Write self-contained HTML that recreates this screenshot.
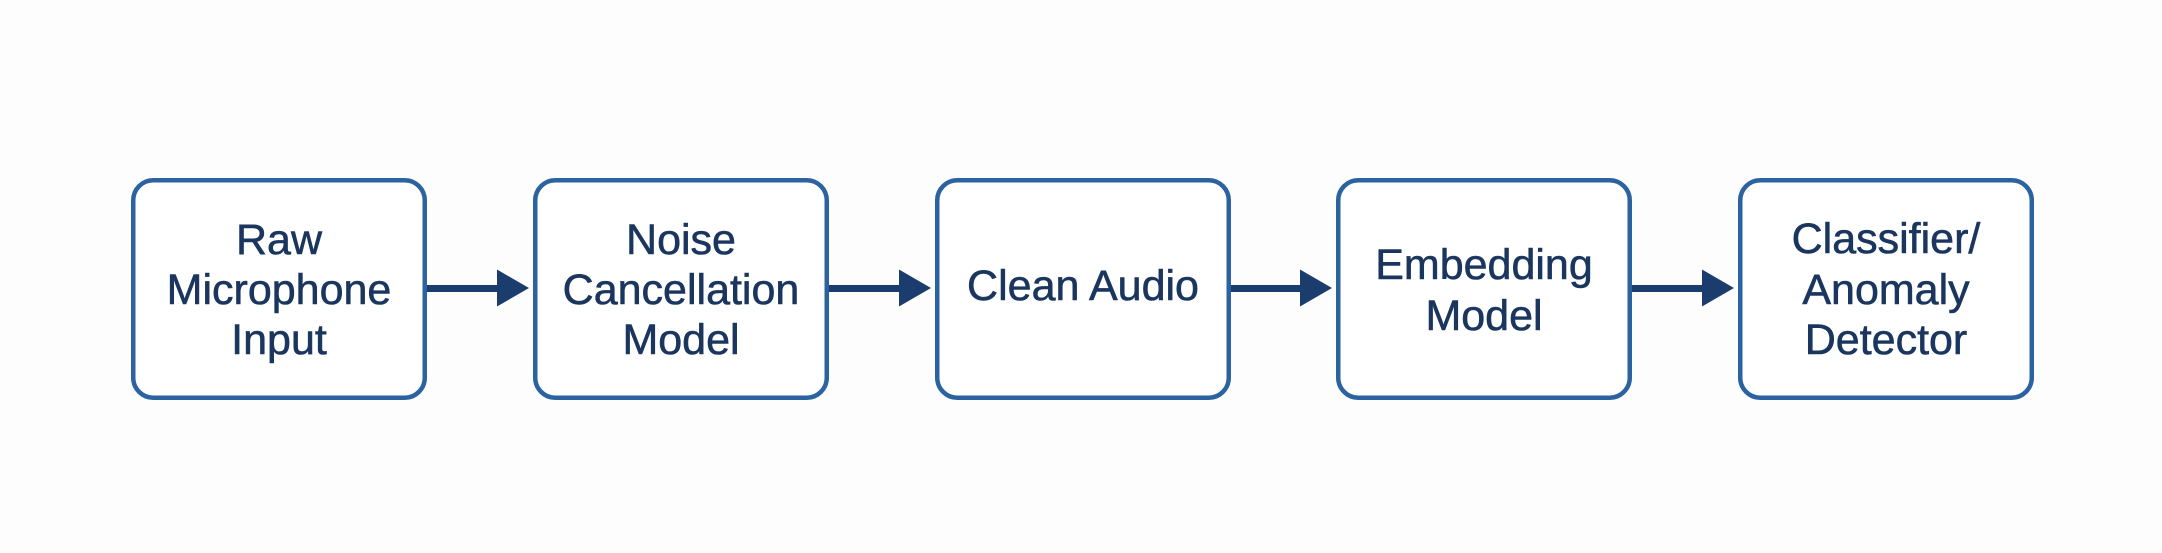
<!DOCTYPE html>
<html>
<head>
<meta charset="utf-8">
<style>
  html, body { margin: 0; padding: 0; background: #fdfdfd; }
  body { width: 2162px; height: 553px; overflow: hidden; }
  svg { display: block; }
  text {
    font-family: "Liberation Sans", "DejaVu Sans", sans-serif;
    font-size: 43px;
    fill: #1b365e;
    stroke: #1b365e;
    stroke-width: 0.6px;
    text-anchor: middle;
  }
</style>
</head>
<body>
<svg width="2162" height="553" viewBox="0 0 2162 553" xmlns="http://www.w3.org/2000/svg">
  <rect x="0" y="0" width="2162" height="553" fill="#fdfdfd"/>

  <!-- Boxes -->
  <g fill="#ffffff" stroke="#2b62a0" stroke-width="4.5">
    <rect x="133.25" y="180.25" width="291.5" height="217.5" rx="20" ry="20"/>
    <rect x="535.25" y="180.25" width="291.5" height="217.5" rx="20" ry="20"/>
    <rect x="937.25" y="180.25" width="291.5" height="217.5" rx="20" ry="20"/>
    <rect x="1338.25" y="180.25" width="291.5" height="217.5" rx="20" ry="20"/>
    <rect x="1740.25" y="180.25" width="291.5" height="217.5" rx="20" ry="20"/>
  </g>

  <!-- Arrows -->
  <g fill="#1b3d6d">
    <rect x="427" y="285" width="72" height="7"/>
    <polygon points="497,269.5 529,288 497,306.5"/>

    <rect x="829" y="285" width="72" height="7"/>
    <polygon points="899,269.5 931,288 899,306.5"/>

    <rect x="1231" y="285" width="71" height="7"/>
    <polygon points="1300,269.5 1332,288 1300,306.5"/>

    <rect x="1632" y="285" width="72" height="7"/>
    <polygon points="1702,269.5 1734,288 1702,306.5"/>
  </g>

  <!-- Labels -->
  <text x="279" y="254">Raw</text>
  <text x="279" y="304">Microphone</text>
  <text x="279" y="354">Input</text>

  <text x="681" y="254">Noise</text>
  <text x="681" y="304">Cancellation</text>
  <text x="681" y="354">Model</text>

  <text x="1083" y="300">Clean Audio</text>

  <text x="1484" y="279">Embedding</text>
  <text x="1484" y="330">Model</text>

  <text x="1886" y="253">Classifier/</text>
  <text x="1886" y="304">Anomaly</text>
  <text x="1886" y="354">Detector</text>
</svg>
</body>
</html>
